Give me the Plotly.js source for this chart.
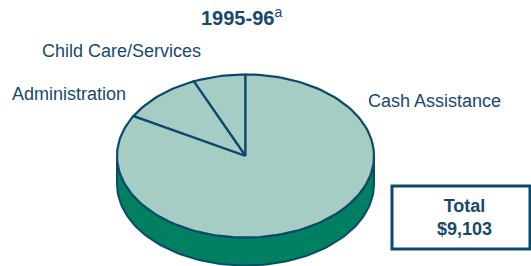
<!DOCTYPE html>
<html><head><meta charset="utf-8">
<script src="https://cdn.plot.ly/plotly-3.0.1.min.js"></script>
<style>html,body{margin:0;padding:0;background:#fff}#chart{width:531px;height:266px}</style>
</head><body><div id="chart"></div>
<script>
// Data (millions of dollars, 1995-96)
const categories = ["Child Care/Services", "Administration", "Cash Assistance"];
const values = [600, 935, 7568];
const totalLabel = "$9,103";
const titleMain = "1995-96";
const titleNote = "a";

// Geometry / style
const W = 531, H = 266;
const cx = 245.5, cy = 156, rx = 128.5, ry = 81.5, depth = 28;
const topColor = "#a6cdc4", sideColor = "#008060", lineColor = "#0c4a6c", textColor = "#17496d";
const font = "Liberation Sans, Arial, sans-serif";

function pt(tDeg, dy) {
  const t = tDeg * Math.PI / 180;
  return [cx + rx * Math.cos(t), cy - ry * Math.sin(t) + (dy || 0)];
}
const traces = [];
// side (depth) of the pie
{
  const xs = [], ys = [];
  for (let a = 180; a <= 360; a += 2) { const p = pt(a, depth); xs.push(p[0]); ys.push(p[1]); }
  for (let a = 360; a >= 180; a -= 2) { const p = pt(a, 0); xs.push(p[0]); ys.push(p[1]); }
  xs.push(xs[0]); ys.push(ys[0]);
  traces.push({type: "scatter", mode: "lines", x: xs, y: ys, fill: "toself", fillcolor: sideColor,
    line: {color: lineColor, width: 2}, hoverinfo: "skip", showlegend: false});
}
// slices, counterclockwise from 12 o'clock
const total = values.reduce((a, b) => a + b, 0);
let start = 90;
values.forEach((v, i) => {
  const sweep = v / total * 360;
  const xs = [cx], ys = [cy];
  const n = Math.max(4, Math.ceil(sweep / 2));
  for (let k = 0; k <= n; k++) { const p = pt(start + sweep * k / n); xs.push(p[0]); ys.push(p[1]); }
  xs.push(cx); ys.push(cy);
  traces.push({type: "scatter", mode: "lines", x: xs, y: ys, fill: "toself", fillcolor: topColor,
    line: {color: lineColor, width: 2.2}, hoverinfo: "skip", showlegend: false, name: categories[i]});
  start += sweep;
});

const labelPos = [[121, 51], [69, 94], [434, 101]];
const annotations = categories.map((c, i) => ({
  x: labelPos[i][0], y: labelPos[i][1], xref: "x", yref: "y", text: c, showarrow: false,
  font: {family: font, size: 18, color: textColor}
}));
annotations.push({x: 241, y: 16, xref: "x", yref: "y", text: "<b>" + titleMain + "</b><sup>" + titleNote + "</sup>", showarrow: false,
  font: {family: font, size: 20, color: textColor}});
annotations.push({x: 464, y: 217, xref: "x", yref: "y", text: "<b>Total<br>" + totalLabel + "</b>", showarrow: false,
  font: {family: font, size: 18, color: textColor}});

const layout = {
  width: W, height: H, margin: {l: 0, r: 0, t: 0, b: 0},
  paper_bgcolor: "#fff", plot_bgcolor: "#fff",
  xaxis: {range: [0, W], visible: false, fixedrange: true},
  yaxis: {range: [H, 0], visible: false, fixedrange: true},
  showlegend: false,
  shapes: [{type: "rect", xref: "x", yref: "y", x0: 392, x1: 530, y0: 186, y1: 249,
    line: {color: lineColor, width: 3}, fillcolor: "rgba(0,0,0,0)"}],
  annotations: annotations
};
Plotly.newPlot("chart", traces, layout, {staticPlot: true, displayModeBar: false});
</script></body></html>
